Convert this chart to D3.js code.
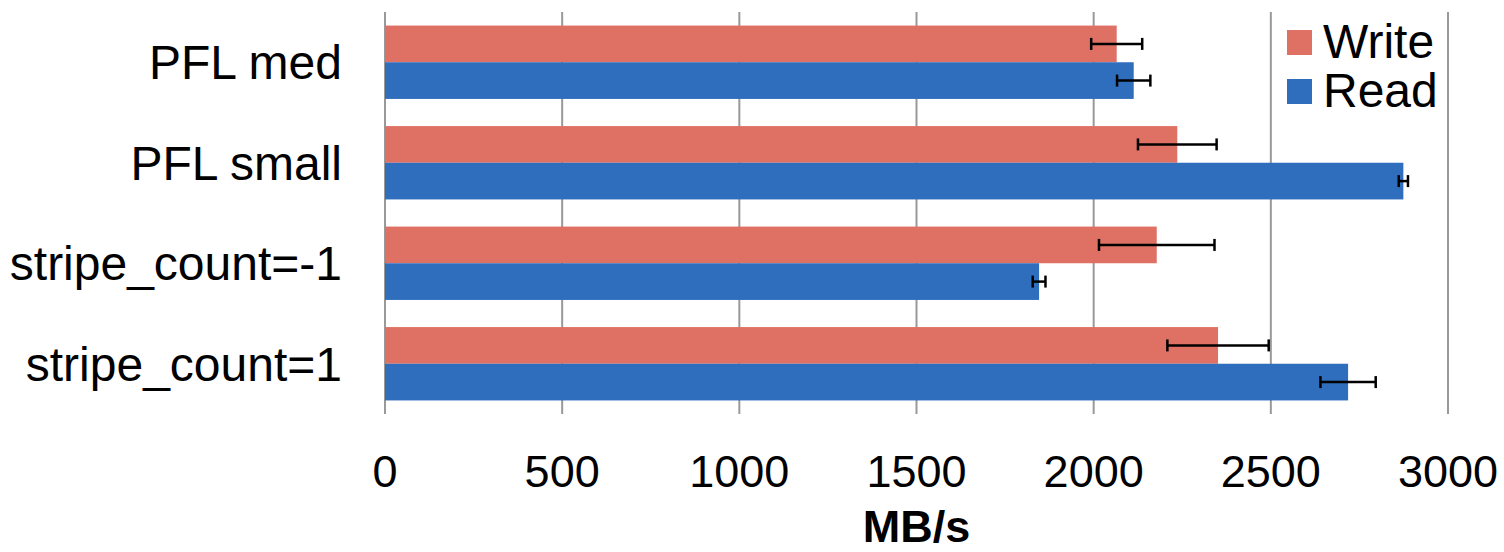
<!DOCTYPE html>
<html>
<head>
<meta charset="utf-8">
<script src="https://cdn.jsdelivr.net/npm/d3@7"></script>
<style>
  html, body { margin: 0; padding: 0; background: #fff; }
  svg { display: block; font-family: "Liberation Sans", Arial, sans-serif; }
</style>
</head>
<body>
<svg id="chart" width="1504" height="552"></svg>
<script>
const categories = ["PFL med", "PFL small", "stripe_count=-1", "stripe_count=1"];
const seriesNames = ["Write", "Read"];
const writeValues = [2065, 2236, 2178, 2351];
const writeErrors = [72, 111, 163, 143];
const readValues = [2113, 2874, 1846, 2718];
const readErrors = [47, 13, 18, 78];
const xTicks = [0, 500, 1000, 1500, 2000, 2500, 3000];
const colors = {"Write": "#DF7064", "Read": "#2F6DBD"};

(function () {
const svg = d3.select("#chart");
const plotLeft = 385, plotRight = 1448, plotTop = 12, plotBottom = 414;

const x = d3.scaleLinear().domain([0, 3000]).range([plotLeft, plotRight]);
const y = d3.scaleBand().domain(categories).range([plotTop, plotBottom]).paddingInner(0.27).paddingOuter(0.135);
const ySub = d3.scaleBand().domain(seriesNames).range([0, y.bandwidth()]);

// gridlines
svg.append("g").selectAll("line").data(xTicks).join("line")
  .attr("x1", d => x(d)).attr("x2", d => x(d))
  .attr("y1", plotTop).attr("y2", plotBottom)
  .attr("stroke", "#999").attr("stroke-width", 2);

// x tick labels
svg.append("g").selectAll("text").data(xTicks).join("text")
  .attr("x", d => x(d)).attr("y", 487)
  .attr("text-anchor", "middle")
  .attr("font-size", 45).attr("fill", "#000")
  .text(d => d);

// axis title
svg.append("text").attr("x", (plotLeft + plotRight) / 2).attr("y", 542)
  .attr("text-anchor", "middle").attr("font-size", 45).attr("font-weight", "bold")
  .attr("fill", "#000").text("MB/s");

// category labels
svg.append("g").selectAll("text").data(categories).join("text")
  .attr("x", 342).attr("y", d => y(d) + y.bandwidth() / 2)
  .attr("dy", "0.35em")
  .attr("text-anchor", "end").attr("font-size", 48).attr("fill", "#000")
  .text(d => d);

const rows = [];
categories.forEach((c, i) => {
  rows.push({cat: c, s: "Write", v: writeValues[i], e: writeErrors[i]});
  rows.push({cat: c, s: "Read", v: readValues[i], e: readErrors[i]});
});

// bars
svg.append("g").selectAll("rect").data(rows).join("rect")
  .attr("x", x(0))
  .attr("y", d => y(d.cat) + ySub(d.s))
  .attr("width", d => x(d.v) - x(0))
  .attr("height", ySub.bandwidth())
  .attr("fill", d => colors[d.s]);

// error bars
const eg = svg.append("g").attr("stroke", "#000");
rows.forEach(d => {
  const cy = y(d.cat) + ySub(d.s) + ySub.bandwidth() / 2;
  eg.append("line").attr("x1", x(d.v - d.e)).attr("x2", x(d.v + d.e))
    .attr("y1", cy).attr("y2", cy).attr("stroke-width", 2.5);
  [d.v - d.e, d.v + d.e].forEach(v => {
    eg.append("line").attr("x1", x(v)).attr("x2", x(v))
      .attr("y1", cy - 6).attr("y2", cy + 6).attr("stroke-width", 2.5);
  });
});

// legend
const legend = svg.append("g");
const legendY = [30, 79];
seriesNames.forEach((s, i) => {
  legend.append("rect").attr("x", 1287).attr("y", legendY[i])
    .attr("width", 25).attr("height", 25).attr("fill", colors[s]);
  legend.append("text").attr("x", 1323).attr("y", legendY[i] + 12.5)
    .attr("dy", "0.33em").attr("font-size", 48).attr("fill", "#000").text(s);
});
})();
</script>
</body>
</html>
